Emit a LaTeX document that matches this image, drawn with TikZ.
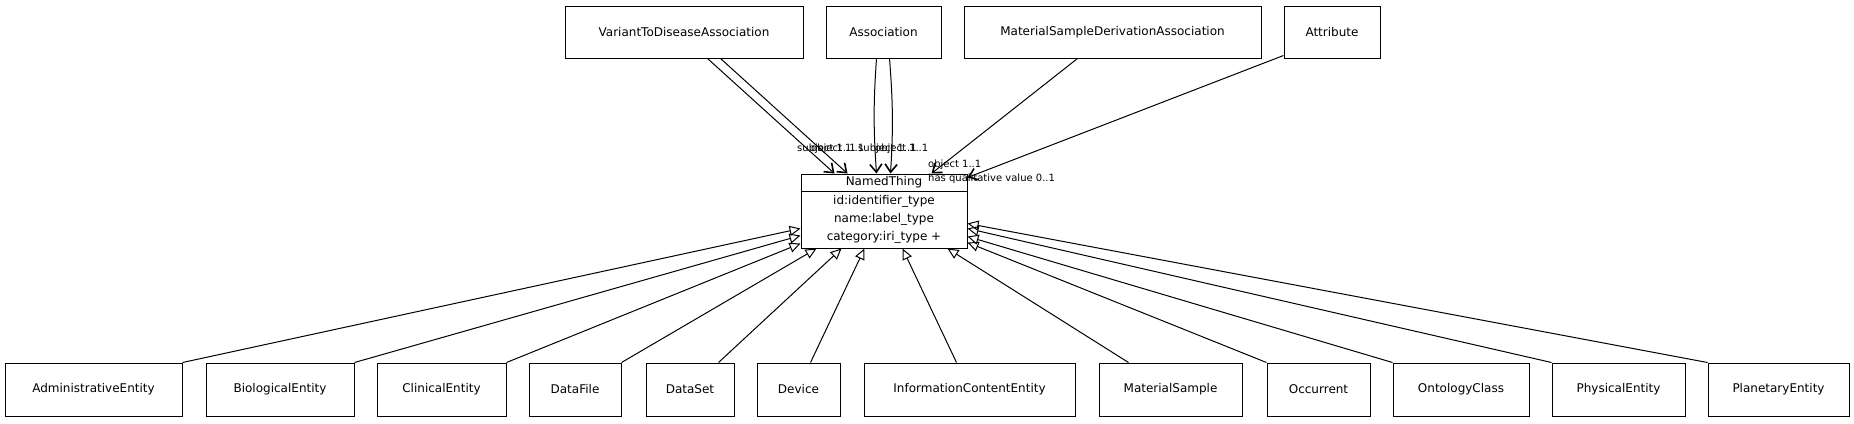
\documentclass[tikz,border=0pt]{standalone}
\usepackage{fontspec}
\setmainfont{DejaVu Sans}
\usetikzlibrary{arrows.meta,calc}
\begin{document}
\begin{tikzpicture}[x=1pt,y=-1pt,
  box/.style={draw, line width=1pt, inner sep=0pt, font=\fontsize{12}{14}\selectfont},
  txt/.style={inner sep=0pt, font=\fontsize{12}{14}\selectfont},
  lbl/.style={font=\fontsize{10}{12}\selectfont, inner sep=0pt, anchor=west},
  assoc/.style={line width=1pt, -{Straight Barb[length=8pt,width=12pt,line width=1.6pt]}},
  isa/.style={line width=1pt, -{Triangle[open,length=11pt,width=10pt,line width=1pt]}},
]
\useasboundingbox (0,0) rectangle (1854,423);

% top row
\node[box, minimum width=238pt, minimum height=52pt] (vtda) at (684,32) {VariantToDiseaseAssociation};
\node[box, minimum width=115pt, minimum height=52pt] (assoc) at (883.5,32) {Association};
\node[box, minimum width=297pt, minimum height=52pt] (msda) at (1112.5,32) {MaterialSampleDerivationAssociation};
\node[box, minimum width=96pt, minimum height=52pt] (attr) at (1332,32) {Attribute};

% NamedThing
\node[box, minimum width=166pt, minimum height=74pt] (nt) at (884,211) {};
\draw[line width=1pt] ($(nt.north west)+(0,18)$) -- ($(nt.north east)+(0,18)$);
\node[txt] (ntname) at (884,182.5) {NamedThing};
\node[txt] (ntid) at (884,201) {id:identifier\_type};
\node[txt] (ntlab) at (884,219) {name:label\_type};
\node[txt] (ntcat) at (884,237.5) {category:iri\_type +};

% bottom row
\node[box, minimum width=177pt, minimum height=53pt] (admin) at (93.5,389.5) {AdministrativeEntity};
\node[box, minimum width=148pt, minimum height=53pt] (bio) at (280,389.5) {BiologicalEntity};
\node[box, minimum width=129pt, minimum height=53pt] (clin) at (441.5,389.5) {ClinicalEntity};
\node[box, minimum width=92pt, minimum height=53pt] (dfile) at (575,389.5) {DataFile};
\node[box, minimum width=88pt, minimum height=53pt] (dset) at (690,389.5) {DataSet};
\node[box, minimum width=83pt, minimum height=53pt] (device) at (798.5,389.5) {Device};
\node[box, minimum width=211pt, minimum height=53pt] (ice) at (969.5,389.5) {InformationContentEntity};
\node[box, minimum width=143pt, minimum height=53pt] (ms) at (1170.5,389.5) {MaterialSample};
\node[box, minimum width=103pt, minimum height=53pt] (occ) at (1318.5,389.5) {Occurrent};
\node[box, minimum width=136pt, minimum height=53pt] (onto) at (1461,389.5) {OntologyClass};
\node[box, minimum width=133pt, minimum height=53pt] (phys) at (1618.5,389.5) {PhysicalEntity};
\node[box, minimum width=141pt, minimum height=53pt] (plan) at (1778.5,389.5) {PlanetaryEntity};

% association connectors
\draw[assoc] ($(vtda.south west)+(143,0)$) -- ($(nt.north west)+(34,0)$);
\draw[assoc] ($(vtda.south west)+(156,0)$) -- ($(nt.north west)+(47,0)$);
\draw[assoc] ($(assoc.south west)+(51,0)$) to[bend right=4] ($(nt.north west)+(76,0)$);
\draw[assoc] ($(assoc.south west)+(64,0)$) to[bend left=4] ($(nt.north west)+(90,0)$);
\draw[assoc] ($(msda.south west)+(114,0)$) -- ($(nt.north west)+(131,0)$);
\draw[assoc] ($(attr.south west)+(0,-3)$) -- ($(nt.north east)+(0,4)$);

% labels
\node[lbl] (l1) at (797,149) {subject 1..1};
\node[lbl] (l2) at (811,149) {object 1..1};
\node[lbl] (l3) at (858,149) {subject 1..1};
\node[lbl] (l4) at (875,149) {object 1..1};
\node[lbl] (l5) at (928,165) {object 1..1};
\node[lbl] (l6) at (928,178.5) {has qualitative value 0..1};

% is-a connectors
\draw[isa] (admin.north east) -- ($(nt.south west)+(0,-20)$);
\draw[isa] (bio.north east) -- ($(nt.south west)+(0,-13)$);
\draw[isa] (clin.north east) -- ($(nt.south west)+(0,-5)$);
\draw[isa] (dfile.north east) -- ($(nt.south west)+(16,0)$);
\draw[isa] ($(dset.north west)+(73,0)$) -- ($(nt.south west)+(41,0)$);
\draw[isa] ($(device.north west)+(54,0)$) -- ($(nt.south west)+(64,0)$);
\draw[isa] ($(ice.north west)+(93,0)$) -- ($(nt.south west)+(102,0)$);
\draw[isa] ($(ms.north west)+(30,0)$) -- ($(nt.south west)+(147,0)$);
\draw[isa] (occ.north west) -- ($(nt.south east)+(0,-6)$);
\draw[isa] (onto.north west) -- ($(nt.south east)+(0,-12)$);
\draw[isa] (phys.north west) -- ($(nt.south east)+(0,-20)$);
\draw[isa] (plan.north west) -- ($(nt.south east)+(0,-25)$);
\end{tikzpicture}
\end{document}
